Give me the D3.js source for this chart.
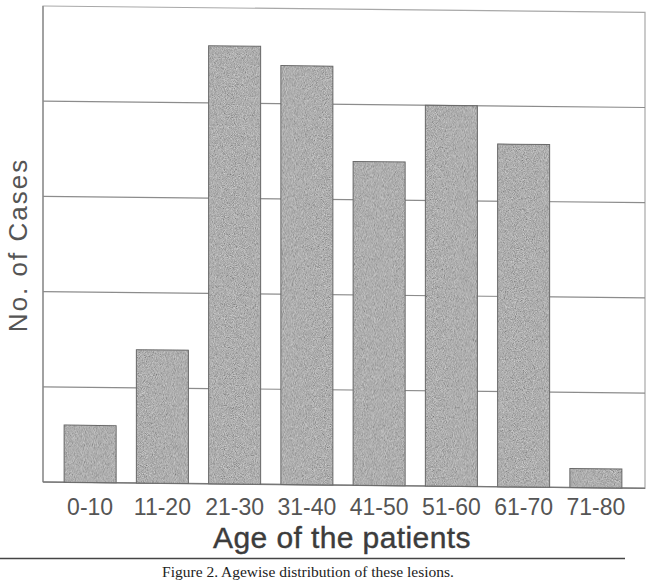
<!DOCTYPE html>
<html lang="en">
<head>
    <meta charset="UTF-8">
    <title>Agewise distribution of these lesions</title>
    <script src="https://d3js.org/d3.v7.min.js"></script>
    <style>
        body { margin: 0; background: #fff; }
    </style>
</head>
<body>
    <div id="chart"></div>
    <script>
        // data (grid step = 5 cases)
        const ageGroups = ["0-10", "11-20", "21-30", "31-40", "41-50", "51-60", "61-70", "71-80"];
        const cases = [3, 7, 23, 22, 17, 20, 18, 1];
        const yTicks = [5, 10, 15, 20];

        const width = 650;
        const height = 588;
        const plotLeft = 43, plotRight = 645, plotTop = 6, plotBottom = 482;
        const sans = "'Liberation Sans', Arial, sans-serif";
        const serif = "'Liberation Serif', 'Times New Roman', serif";

        const svg = d3.select("#chart")
            .append("svg")
            .attr("width", width)
            .attr("height", height);

        // speckled grey like the photocopy
        const defs = svg.append("defs");
        const f = defs.append("filter").attr("id", "speckle")
            .attr("x", 0).attr("y", 0).attr("width", "100%").attr("height", "100%");
        f.append("feTurbulence").attr("type", "fractalNoise")
            .attr("baseFrequency", 1.1).attr("numOctaves", 2).attr("seed", 4);
        f.append("feColorMatrix").attr("type", "matrix")
            .attr("values", "0.33 0.33 0.33 0 0  0.33 0.33 0.33 0 0  0.33 0.33 0.33 0 0  0 0 0 0 1")
            .attr("result", "n");
        f.append("feComposite").attr("in", "SourceGraphic").attr("in2", "n")
            .attr("operator", "arithmetic")
            .attr("k1", 0).attr("k2", 1).attr("k3", 1.0).attr("k4", -0.47)
            .attr("result", "m");
        f.append("feComposite").attr("in", "m").attr("in2", "SourceAlpha").attr("operator", "in");

        const x = d3.scaleBand()
            .domain(ageGroups)
            .range([54, 632])
            .paddingInner(0.28)
            .paddingOuter(0.14);

        const y = d3.scaleLinear()
            .domain([0, 25])
            .range([plotBottom, plotTop]);

        // the scan is slightly skewed, so shear the plot a little
        const plot = svg.append("g")
            .attr("transform", `translate(${plotLeft},${plotBottom}) skewY(0.6) translate(${-plotLeft},${-plotBottom})`);

        // frame
        plot.append("rect")
            .attr("x", plotLeft).attr("y", plotTop)
            .attr("width", plotRight - plotLeft).attr("height", plotBottom - plotTop)
            .attr("fill", "none")
            .attr("stroke", "#a8a8a8")
            .attr("stroke-width", 1.2);

        // gridlines
        plot.selectAll(".grid")
            .data(yTicks)
            .enter()
            .append("line")
            .attr("class", "grid")
            .attr("x1", plotLeft).attr("x2", plotRight)
            .attr("y1", d => y(d)).attr("y2", d => y(d))
            .attr("stroke", "#8c8c8c")
            .attr("stroke-width", 1.2);

        // axes lines
        plot.append("line")
            .attr("x1", plotLeft).attr("x2", plotLeft)
            .attr("y1", plotTop).attr("y2", plotBottom)
            .attr("stroke", "#8a8a8a").attr("stroke-width", 1.3);
        plot.append("line")
            .attr("x1", plotLeft).attr("x2", plotRight)
            .attr("y1", plotBottom).attr("y2", plotBottom)
            .attr("stroke", "#777").attr("stroke-width", 1.4);

        // bars
        plot.selectAll(".bar")
            .data(cases)
            .enter()
            .append("rect")
            .attr("class", "bar")
            .attr("x", (d, i) => x(ageGroups[i]))
            .attr("y", d => y(d))
            .attr("width", x.bandwidth())
            .attr("height", d => y(0) - y(d))
            .attr("fill", "#a9a9a9")
            .attr("filter", "url(#speckle)");
        plot.selectAll(".edge")
            .data(cases)
            .enter()
            .append("rect")
            .attr("class", "edge")
            .attr("x", (d, i) => x(ageGroups[i]))
            .attr("y", d => y(d))
            .attr("width", x.bandwidth())
            .attr("height", d => y(0) - y(d))
            .attr("fill", "none")
            .attr("stroke", "#6a6a6a")
            .attr("stroke-width", 1);

        // x tick labels
        svg.selectAll(".tick-label")
            .data(ageGroups)
            .enter()
            .append("text")
            .attr("class", "tick-label")
            .attr("x", d => x(d) + x.bandwidth() / 2)
            .attr("y", 515)
            .attr("text-anchor", "middle")
            .style("font-family", sans)
            .style("font-size", "23px")
            .attr("fill", "#555")
            .text(d => d);

        // axis titles
        svg.append("text")
            .attr("x", 342)
            .attr("y", 548)
            .attr("text-anchor", "middle")
            .style("font-family", sans)
            .style("font-size", "30px")
            .style("letter-spacing", "0.4px")
            .attr("fill", "#3c3c3c")
            .attr("stroke", "#3c3c3c")
            .attr("stroke-width", 0.4)
            .text("Age of the patients");

        svg.append("text")
            .attr("transform", "translate(27,245) rotate(-90)")
            .attr("text-anchor", "middle")
            .style("font-family", sans)
            .style("font-size", "26px")
            .style("letter-spacing", "2px")
            .attr("fill", "#555")
            .text("No. of Cases");

        // figure caption under a rule
        svg.append("line")
            .attr("x1", 0).attr("x2", 625)
            .attr("y1", 558.5).attr("y2", 558.5)
            .attr("stroke", "#444").attr("stroke-width", 1.3);

        svg.append("text")
            .attr("x", 308)
            .attr("y", 577)
            .attr("text-anchor", "middle")
            .style("font-family", serif)
            .style("font-size", "15.5px")
            .attr("fill", "#222")
            .text("Figure 2. Agewise distribution of these lesions.");
    </script>
</body>
</html>
